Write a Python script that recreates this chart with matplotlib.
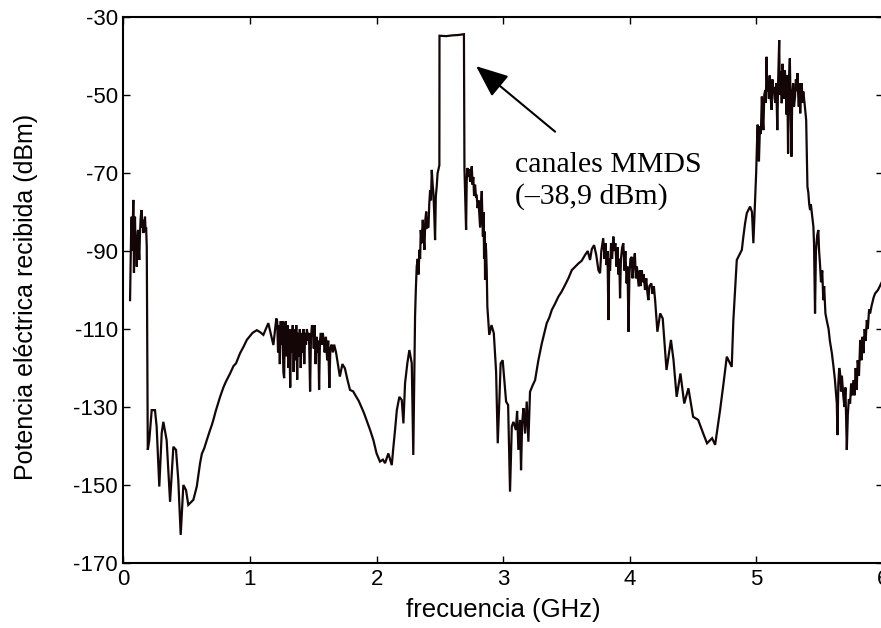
import matplotlib
matplotlib.use("Agg")
import matplotlib.pyplot as plt

# (frequency GHz, received power dBm), one list per span
seg_low = [
    (0.053, -102.6), (0.058, -92.0), (0.062, -84.0), (0.066, -81.2), (0.070, -90.0),
    (0.074, -84.0), (0.079, -76.9), (0.082, -88.0), (0.084, -95.6), (0.088, -85.0),
    (0.092, -81.2), (0.097, -90.0), (0.102, -86.0), (0.106, -94.0), (0.110, -88.0),
    (0.114, -85.0), (0.118, -84.6), (0.122, -90.0), (0.126, -92.3), (0.131, -86.0),
    (0.136, -82.0), (0.141, -80.0), (0.145, -79.5), (0.150, -84.0), (0.154, -82.0),
    (0.158, -85.4), (0.163, -83.0), (0.167, -84.0), (0.171, -81.2), (0.176, -85.0),
    (0.180, -84.0), (0.185, -88.9), (0.193, -141.0), (0.205, -138.5), (0.224, -130.8),
    (0.250, -130.8), (0.263, -135.0), (0.284, -150.4), (0.303, -136.7), (0.316, -133.8),
    (0.342, -138.5), (0.369, -154.3), (0.395, -140.2), (0.416, -141.0), (0.434, -148.7),
    (0.453, -162.8), (0.474, -150.0), (0.495, -151.3), (0.513, -155.1), (0.553, -153.8),
    (0.580, -150.4), (0.606, -144.4), (0.620, -142.0), (0.640, -140.5), (0.659, -138.5),
    (0.685, -135.9), (0.700, -134.5), (0.711, -133.3), (0.730, -131.0), (0.764, -127.4),
    (0.790, -125.0), (0.810, -123.5), (0.843, -121.4), (0.870, -119.5), (0.890, -118.8),
    (0.922, -116.2), (0.950, -114.5), (0.975, -112.8), (1.000, -111.8), (1.020, -111.0),
    (1.054, -110.3), (1.080, -110.8), (1.106, -111.5), (1.145, -108.5), (1.185, -114.1),
    (1.208, -107.3),
]
seg_hump1 = [
    (1.215, -108.0), (1.222, -116.0), (1.229, -109.0), (1.236, -119.0), (1.243, -108.0),
    (1.250, -114.0), (1.257, -108.0), (1.264, -121.0), (1.270, -122.6), (1.276, -109.0),
    (1.283, -108.0), (1.290, -117.0), (1.297, -109.0), (1.304, -120.0), (1.311, -110.0),
    (1.318, -125.0), (1.324, -110.0), (1.331, -116.0), (1.338, -109.0), (1.345, -121.0),
    (1.352, -110.0), (1.359, -118.0), (1.366, -109.0), (1.373, -123.0), (1.380, -111.0),
    (1.387, -117.0), (1.394, -110.0), (1.401, -120.0), (1.408, -111.0), (1.415, -116.0),
    (1.422, -110.0), (1.429, -119.0), (1.436, -111.0), (1.443, -114.0), (1.450, -110.0),
    (1.458, -113.0), (1.466, -111.0), (1.475, -126.0), (1.482, -112.0), (1.490, -109.0),
    (1.497, -110.0), (1.504, -115.0), (1.511, -109.0), (1.518, -119.0), (1.526, -112.0),
    (1.533, -116.0), (1.540, -113.0), (1.546, -125.6), (1.553, -113.0), (1.560, -111.0),
    (1.568, -114.0), (1.575, -111.0), (1.583, -113.0), (1.590, -116.0), (1.600, -112.0),
    (1.610, -118.0), (1.618, -113.0), (1.627, -125.1), (1.635, -115.0), (1.645, -114.0),
    (1.655, -116.0), (1.665, -114.0), (1.680, -116.0), (1.710, -122.2), (1.730, -119.0),
    (1.750, -120.1), (1.770, -123.0), (1.790, -125.6), (1.815, -126.0), (1.840, -127.4),
    (1.860, -128.5), (1.880, -130.0), (1.900, -131.5), (1.920, -133.3), (1.949, -135.9),
    (1.975, -138.5), (2.000, -141.9), (2.027, -144.0), (2.050, -143.5), (2.067, -144.4),
    (2.093, -141.9), (2.120, -144.9),
]
seg_mmds = [
    (2.133, -140.2), (2.146, -135.9), (2.160, -130.8), (2.180, -127.4), (2.199, -128.2),
    (2.212, -134.2), (2.225, -123.9), (2.243, -118.8), (2.259, -115.4), (2.278, -118.8),
    (2.290, -142.3), (2.304, -106.8), (2.310, -100.0), (2.317, -94.0), (2.325, -92.0),
    (2.332, -96.0), (2.338, -89.7), (2.344, -92.0), (2.349, -84.6), (2.356, -88.0),
    (2.365, -82.0), (2.371, -86.0), (2.378, -89.7), (2.385, -82.0), (2.392, -79.9),
    (2.400, -84.0), (2.410, -83.8), (2.416, -78.0), (2.423, -74.4), (2.430, -77.0),
    (2.436, -69.2), (2.443, -73.0), (2.449, -75.2), (2.455, -80.0), (2.462, -87.2),
    (2.468, -76.0), (2.475, -73.5), (2.482, -70.0), (2.488, -69.2), (2.496, -68.0),
    (2.497, -34.8), (2.550, -34.9), (2.600, -34.7), (2.650, -34.6), (2.690, -34.4),
    (2.694, -68.7), (2.700, -76.0), (2.707, -84.6), (2.712, -72.0), (2.717, -68.7),
    (2.725, -71.0), (2.732, -69.0), (2.739, -72.3), (2.745, -70.0), (2.752, -68.3),
    (2.758, -73.0), (2.764, -71.0), (2.770, -75.9), (2.778, -73.0), (2.785, -76.0),
    (2.791, -75.9), (2.798, -79.0), (2.805, -77.0), (2.812, -81.0), (2.818, -84.0),
    (2.825, -78.0), (2.831, -74.6), (2.836, -82.0), (2.840, -86.3), (2.845, -80.0),
    (2.849, -92.0), (2.853, -85.0), (2.857, -97.4), (2.861, -88.0), (2.865, -89.7),
    (2.870, -95.0), (2.875, -104.3), (2.890, -111.5), (2.908, -109.0), (2.926, -111.1),
    (2.944, -120.9), (2.957, -139.3), (2.970, -128.2), (2.980, -118.8), (2.996, -118.0),
    (3.009, -123.1), (3.023, -128.6), (3.039, -129.5), (3.054, -151.7), (3.068, -135.0),
    (3.081, -133.8), (3.100, -135.9), (3.110, -131.0), (3.120, -141.0), (3.133, -133.3),
    (3.141, -146.2), (3.150, -134.0), (3.160, -130.3), (3.173, -136.8), (3.186, -128.6),
    (3.199, -138.9), (3.212, -126.1), (3.232, -124.5), (3.252, -123.1), (3.278, -118.0),
    (3.305, -113.7), (3.325, -111.0), (3.344, -108.5), (3.365, -107.0), (3.384, -105.1),
    (3.410, -103.5), (3.436, -101.7), (3.460, -100.5), (3.489, -98.7), (3.515, -97.0),
    (3.542, -94.9), (3.570, -94.0), (3.594, -93.2), (3.620, -92.5), (3.647, -91.0),
    (3.668, -90.0), (3.686, -92.3), (3.700, -89.5), (3.718, -88.5), (3.735, -91.0),
]
seg_hump2 = [
    (3.752, -94.9), (3.765, -95.7), (3.775, -90.0), (3.790, -86.7), (3.800, -92.0),
    (3.808, -88.0), (3.817, -93.6), (3.824, -90.0), (3.831, -107.7), (3.838, -92.0),
    (3.844, -95.0), (3.852, -88.0), (3.860, -92.0), (3.870, -86.3), (3.878, -90.0),
    (3.886, -88.0), (3.895, -94.0), (3.903, -89.0), (3.910, -96.0), (3.917, -92.0),
    (3.923, -102.1), (3.930, -92.0), (3.940, -89.0), (3.949, -88.0), (3.957, -95.0),
    (3.965, -90.0), (3.975, -98.3), (3.982, -94.0), (3.990, -110.7), (3.997, -96.0),
    (4.005, -92.0), (4.015, -91.5), (4.022, -97.0), (4.030, -93.0), (4.040, -90.6),
    (4.048, -97.0), (4.056, -94.0), (4.070, -99.1), (4.078, -95.0), (4.086, -99.0),
    (4.095, -94.9), (4.103, -98.0), (4.110, -96.0), (4.120, -100.0), (4.130, -97.0),
    (4.140, -101.0), (4.147, -102.6), (4.155, -99.0), (4.170, -98.3), (4.180, -101.0),
    (4.190, -99.0), (4.200, -102.6), (4.218, -110.7), (4.240, -106.0), (4.260, -107.3),
    (4.290, -120.5), (4.325, -112.8), (4.345, -117.9), (4.370, -127.4), (4.400, -121.4),
    (4.430, -129.1), (4.463, -125.2), (4.500, -132.5), (4.540, -133.3), (4.580, -136.8),
    (4.610, -139.3), (4.650, -138.0), (4.674, -139.7), (4.713, -130.8), (4.740, -124.0),
    (4.766, -117.1), (4.805, -119.7), (4.818, -107.7), (4.830, -100.9), (4.845, -92.3),
    (4.865, -91.0), (4.885, -89.7), (4.897, -86.3), (4.910, -83.0), (4.924, -80.3),
    (4.950, -78.6), (4.965, -80.0), (4.976, -88.0), (4.990, -76.9),
]
seg_peak = [
    (4.998, -70.0), (5.005, -62.0), (5.010, -57.6), (5.015, -65.0), (5.020, -67.0),
    (5.028, -58.0), (5.035, -60.0), (5.043, -50.4), (5.049, -56.0), (5.055, -59.0),
    (5.062, -50.0), (5.070, -48.7), (5.075, -52.0), (5.080, -40.2), (5.086, -49.0),
    (5.093, -47.0), (5.099, -51.0), (5.105, -45.0), (5.111, -50.0), (5.120, -53.8),
    (5.126, -46.0), (5.132, -49.0), (5.138, -47.9), (5.144, -51.0), (5.150, -52.0),
    (5.157, -47.0), (5.165, -59.0), (5.172, -46.0), (5.180, -35.9), (5.185, -50.0),
    (5.190, -48.0), (5.195, -44.0), (5.200, -52.1), (5.206, -42.0), (5.212, -45.0),
    (5.218, -51.0), (5.225, -43.6), (5.232, -48.0), (5.238, -55.0), (5.244, -45.0),
    (5.250, -65.0), (5.257, -46.0), (5.264, -40.6), (5.270, -52.0), (5.277, -65.8),
    (5.283, -50.0), (5.290, -47.0), (5.297, -53.0), (5.305, -50.4), (5.312, -46.0),
    (5.318, -49.0), (5.324, -44.4), (5.330, -50.0), (5.335, -53.0), (5.340, -47.0),
    (5.346, -54.7), (5.352, -48.0), (5.358, -47.0), (5.364, -52.0), (5.370, -49.1),
    (5.380, -52.0), (5.393, -56.4), (5.403, -73.5), (5.410, -75.0), (5.417, -78.0),
    (5.424, -79.5), (5.430, -78.0), (5.440, -81.0), (5.450, -83.8), (5.455, -88.0),
    (5.463, -106.0), (5.470, -90.0), (5.480, -86.0), (5.489, -84.6), (5.495, -90.0),
    (5.502, -93.2), (5.510, -98.0), (5.520, -95.0), (5.528, -102.6), (5.535, -99.0),
    (5.545, -106.0), (5.555, -107.7), (5.570, -110.0), (5.580, -113.0), (5.596, -116.2),
    (5.610, -120.0), (5.620, -123.0), (5.635, -129.1), (5.640, -137.2), (5.647, -124.0),
    (5.654, -120.0), (5.661, -121.4), (5.668, -126.0), (5.675, -122.0), (5.687, -127.4),
    (5.695, -130.0), (5.703, -125.0), (5.714, -141.0), (5.722, -132.0), (5.730, -128.0),
    (5.740, -129.1), (5.748, -124.0), (5.757, -127.0), (5.766, -123.1), (5.775, -127.0),
    (5.784, -120.0), (5.792, -125.6), (5.800, -118.0), (5.810, -122.0), (5.820, -112.8),
    (5.830, -118.0), (5.837, -112.0), (5.845, -116.2), (5.855, -110.0), (5.863, -113.0),
    (5.872, -107.7), (5.880, -110.0), (5.890, -105.0), (5.898, -106.0), (5.910, -104.0),
    (5.925, -102.0), (5.937, -100.9), (5.960, -100.0), (5.990, -98.0),
]

xticks = [0, 1, 2, 3, 4, 5, 6]
yticks = [-170, -150, -130, -110, -90, -70, -50, -30]
ytick_labels = ["-170", "-150", "-130", "-110", "-90", "-70", "-50", "-30"]

segments = [seg_low, seg_hump1, seg_mmds, seg_hump2, seg_peak]
freq = [f for seg in segments for f, _ in seg]
power = [p for seg in segments for _, p in seg]

plt.rcParams["font.family"] = ["Liberation Sans", "DejaVu Sans"]

fig = plt.figure(figsize=(8.81, 6.28), dpi=100)
ax = fig.add_axes([0.140, 0.1035, 0.8623, 0.8694])
ax.plot(freq, power, color="#140606", lw=1.6, solid_joinstyle="miter")

ax.set_xlim(0, 6)
ax.set_ylim(-170, -30)
ax.set_xticks(xticks)
ax.set_xticklabels([str(v) for v in xticks])
ax.set_yticks(yticks)
ax.set_yticklabels(ytick_labels)
ax.tick_params(direction="in", length=5, width=1.0, top=True, right=True,
               labelsize=16, pad=4)
for s in ax.spines.values():
    s.set_linewidth(1.5)

ax.set_xlabel("frecuencia (GHz)", fontsize=18.5, labelpad=6)
ax.set_ylabel("Potencia eléctrica recibida (dBm)", fontsize=18)
ax.yaxis.set_label_coords(-0.112, 0.488)

serif = ["Liberation Serif", "DejaVu Serif"]
ax.annotate("", xy=(2.786, -42.6), xytext=(3.41, -59.4),
            arrowprops=dict(arrowstyle="-|>,head_length=0.6,head_width=0.25",
                            mutation_scale=33, lw=1.5, color="black",
                            shrinkA=0, shrinkB=0))
ax.text(3.094, -69.7, "canales MMDS", family=serif, fontsize=21.5,
        ha="left", va="baseline")
ax.text(3.094, -77.8, "(\u201338,9 dBm)", family=serif, fontsize=21.5,
        ha="left", va="baseline")

fig.savefig("out.png", dpi=100)
